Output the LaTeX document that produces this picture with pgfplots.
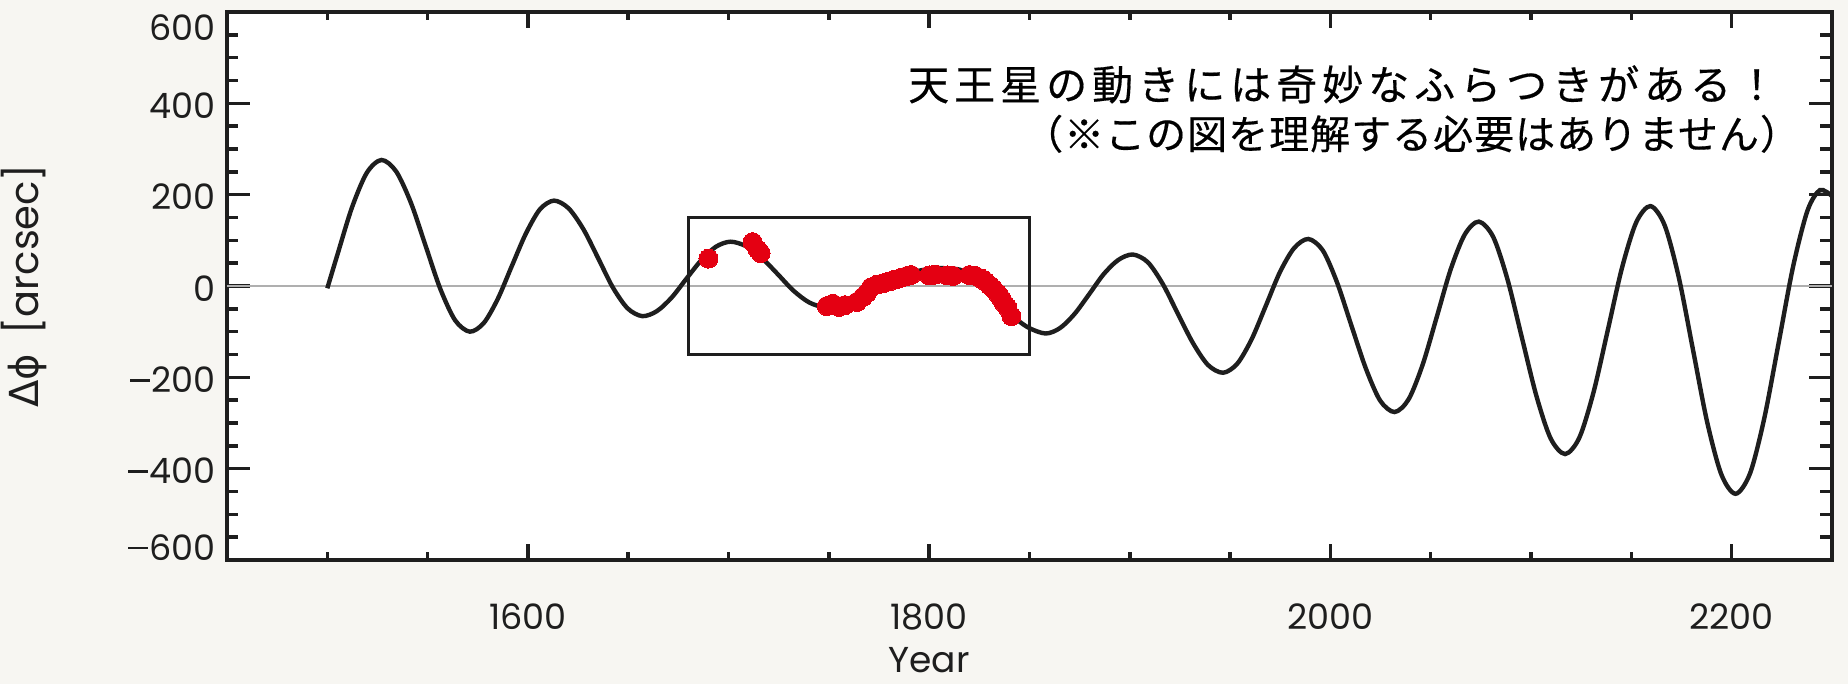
\documentclass[border=0pt]{standalone}
\usepackage{fontspec}
\setmainfont{Poppins}
\newfontfamily\jpa{Noto Sans CJK JP}[FakeBold=0.4, LetterSpace=12.2]
\newfontfamily\jpb{Noto Sans CJK JP}[FakeBold=0.4, LetterSpace=2.5]
\newfontfamily\dejavu{DejaVu Sans}
\usepackage{pgfplots}
\usepackage{pgfplotstable}
\pgfplotsset{compat=1.18}
\usetikzlibrary{backgrounds}
\definecolor{bg}{RGB}{247,246,242}
\definecolor{dotred}{RGB}{228,0,18}
\definecolor{zerogray}{RGB}{175,175,175}
\definecolor{ink}{RGB}{30,30,30}
\newcommand{\mns}{\rule[0.31em]{0.55em}{0.075em}\hspace{0.06em}}

\pgfplotstableread{
year val
1500 -5
1505 68
1512.3 172
1519.7 248
1527 276
1534.3 251
1541.7 182
1549 88
1556.3 -6
1563.7 -75
1571 -100
1578 -81
1585 -28
1592 44
1599 115
1606 168
1613 187
1620.3 170
1627.7 124
1635 61
1642.3 -3
1649.7 -49
1657 -66
1664.3 -55
1671.7 -25
1679 16
1686.3 56
1693.7 86
1701 97
1708.8 87
1716.7 61
1724.5 26
1732.3 -10
1740.2 -36
1748 -46
1757.5 -38
1767 -18
1776.5 4
1786 22
1795.5 34
1805 39
1815 36
1822 22
1828 5
1834 -20
1841 -62
1849 -90
1858 -104
1865.25 -92
1872.5 -61
1879.75 -18
1887 26
1894.25 57
1901.5 69
1909 52
1916.5 4
1924 -61
1931.5 -125
1939 -173
1946.5 -190
1953.6 -170
1960.7 -117
1967.75 -44
1974.8 30
1981.9 83
1989 103
1996.2 78
2003.3 8
2010.5 -87
2017.7 -181
2024.8 -251
2032 -276
2039 -248
2046 -172
2053 -68
2060 37
2067 113
2074 141
2081.2 107
2088.3 14
2095.5 -114
2102.7 -241
2109.8 -334
2117 -368
2124.1 -332
2131.2 -232
2138.25 -97
2145.3 39
2152.4 139
2159.5 175
2166.6 133
2173.7 18
2180.75 -140
2187.8 -298
2194.9 -413
2202 -455
2209.2 -410
2216.3 -289
2223.5 -123
2230.7 44
2237.8 165
2244 210
2250 197
}\curvedata

\pgfplotstableread{
year val
1690 60
1712 96
1714.5 80
1716 72
1749 -44
1752 -39
1755 -46
1758 -42
1764 -35
1767 -24
1769 -15
1771 -3
1774 3
1777 6
1780 10
1783 14
1786 18
1789 22
1791 24
1800 23
1803 25
1809 23
1812 22
1820 24
1823 22
1826 16
1828 10
1830 2
1832 -6
1834 -16
1835.5 -25
1837 -36
1839 -47
1841 -66
}\dotdata

\begin{document}
\begin{tikzpicture}
\begin{axis}[
  name=ax,
  scale only axis,
  width=1605bp, height=548bp,
  xmin=1450, xmax=2250, ymin=-600, ymax=600,
  axis background/.style={fill=white},
  axis line style={line width=4bp, ink},
  xtick={1600,1800,2000,2200},
  xticklabels={1600,1800,2000,2200},
  minor xtick={1500,1550,...,2250},
  ytick={-600,-400,-200,0,200,400,600},
  yticklabels={
    {\raisebox{-0.25bp}[0pt][0pt]{\mns 600}},
    {\raisebox{-15.25bp}[0pt][0pt]{\mns 400}},
    {\raisebox{-15.25bp}[0pt][0pt]{\mns 200}},
    {\raisebox{-15.25bp}[0pt][0pt]{0}},
    {\raisebox{-15.25bp}[0pt][0pt]{200}},
    {\raisebox{-15.25bp}[0pt][0pt]{400}},
    {\raisebox{-28.25bp}[0pt][0pt]{600}}},
  minor ytick={-550,-500,...,550},
  tick style={line width=3.5bp, ink},
  xtick style={/pgfplots/major tick length=16bp, /pgfplots/minor tick length=8bp},
  ytick style={/pgfplots/major tick length=23bp, /pgfplots/minor tick length=11.5bp},
  xticklabel style={anchor=base, yshift=-69bp, font=\fontsize{35bp}{35bp}\selectfont, text=ink},
  yticklabel style={anchor=east, inner sep=0pt, xshift=-11bp, font=\fontsize{35bp}{35bp}\selectfont, text=ink},
  xlabel={Year},
  xlabel style={at={(rel axis cs:0.4375,-0.2045)}, anchor=base, inner sep=0pt, font=\fontsize{36bp}{36bp}\selectfont, text=ink},
  ylabel={{\dejavu Δϕ}\hspace{0.5em}[arcsec]},
  ylabel style={at={(rel axis cs:-0.1265,0.5)}, anchor=center, inner sep=0pt, font=\fontsize{40bp}{40bp}\selectfont, text=ink},
]
\addplot[zerogray, line width=2.5bp, forget plot] coordinates {(1450,0) (2250,0)};
\addplot[ink, line width=3.8bp, line join=miter, forget plot] coordinates {(1680,-150) (1680,150) (1850,150) (1850,-150) (1680,-150) (1680,0)};
\addplot[ink, line width=4.4bp, smooth, forget plot] table[x=year, y=val] {\curvedata};
\addplot[dotred, only marks, mark=*, mark size=9.5bp, mark options={draw=dotred, fill=dotred, line width=0pt}, forget plot] table[x=year, y=val] {\dotdata};
\end{axis}
\node[anchor=base west, inner sep=0pt, text=black, font=\jpa\fontsize{41bp}{41bp}\selectfont] at ([shift={(681bp,-88bp)}]ax.north west) {天王星の動きには奇妙なふらつきがある！};
\node[anchor=base west, inner sep=0pt, text=black, font=\jpb\fontsize{40bp}{40bp}\selectfont] at ([shift={(796bp,-137bp)}]ax.north west) {（※この図を理解する必要はありません）};
\pgfresetboundingbox
\path[use as bounding box] ([shift={(-227bp,-124bp)}]ax.south west) rectangle ++(1848bp,684bp);
\begin{pgfonlayer}{background}
\fill[bg] ([shift={(-227bp,-124bp)}]ax.south west) rectangle ++(1848bp,684bp);
\end{pgfonlayer}
\end{tikzpicture}
\end{document}
